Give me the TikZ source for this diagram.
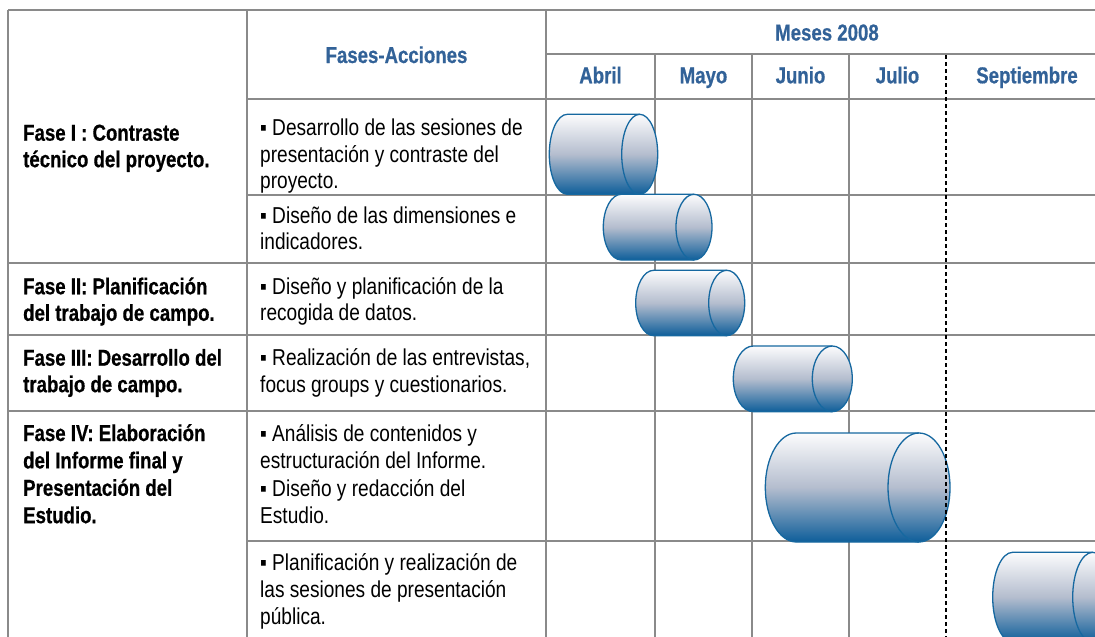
\documentclass[tikz,border=0pt]{standalone}
\usepackage{fontspec}
\setmainfont{Liberation Sans}[FakeStretch=0.83,BoldFeatures={FakeStretch=0.81,FakeBold=0.6}]
\definecolor{gridgray}{RGB}{138,138,138}
\definecolor{headblue}{RGB}{50,98,152}
\definecolor{cyledge}{RGB}{22,104,160}
\definecolor{cyltop}{RGB}{252,252,253}
\definecolor{cylmid}{RGB}{180,189,206}
\definecolor{cylbot}{RGB}{14,94,154}
\newcommand\gantcyl[5]{%
  \pgfmathsetmacro\cxa{#1+#5}%
  \pgfmathsetmacro\cxb{#2-#5}%
  \pgfmathsetmacro\cry{(#4-#3)/2}%
  \shade[top color=cyltop,bottom color=cylbot,middle color=cylmid]
    (\cxa,#3) -- (\cxb,#3) arc[start angle=90,end angle=-90,x radius=#5pt,y radius=\cry pt]
    -- (\cxa,#4) arc[start angle=-90,end angle=-270,x radius=#5pt,y radius=\cry pt] -- cycle;
  \draw[cylline]
    (\cxa,#3) -- (\cxb,#3) arc[start angle=90,end angle=-90,x radius=#5pt,y radius=\cry pt]
    -- (\cxa,#4) arc[start angle=-90,end angle=-270,x radius=#5pt,y radius=\cry pt] -- cycle;
  \draw[cylline] (\cxb,#3) arc[start angle=90,end angle=270,x radius=#5pt,y radius=\cry pt];
}
\tikzset{
  gridline/.style={draw=gridgray,line width=2.2pt},
  dashline/.style={draw=black,line width=2pt,dash pattern=on 4pt off 3pt},
  cylline/.style={draw=cyledge,line width=1.3pt},
  headtext/.style={inner sep=0pt,anchor=base,text=headblue,font=\fontsize{23}{26.5}\selectfont\bfseries},
  fasetext/.style={inner sep=0pt,anchor=base west,align=left,font=\fontsize{23}{#1}\selectfont\bfseries},
  fasetext/.default=26.5,
  acttext/.style={inner sep=0pt,anchor=base west,align=left,font=\fontsize{23}{#1}\selectfont},
  acttext/.default=26.5
}
\begin{document}
\begin{tikzpicture}[x=1pt,y=-1pt]
\useasboundingbox (0,0) rectangle (1095,637);
\clip (0,0) rectangle (1095,637);
% grid
\draw[gridline] (8,10) -- (8,640);
\draw[gridline] (247,10) -- (247,640);
\draw[gridline] (546,10) -- (546,640);
\foreach \xx in {655,752,849} \draw[gridline] (\xx,54) -- (\xx,640);
\draw[gridline] (1108,10) -- (1108,640);
\draw[gridline] (8,10) -- (1110,10);
\draw[gridline] (546,54) -- (1110,54);
\draw[gridline] (247,99) -- (1110,99);
\draw[gridline] (247,195) -- (1110,195);
\draw[gridline] (8,263) -- (1110,263);
\draw[gridline] (8,335) -- (1110,335);
\draw[gridline] (8,411) -- (1110,411);
\draw[gridline] (247,541) -- (1110,541);
% header
\node[headtext] (fa) at (396.5,63) {Fases-Acciones};
\node[headtext] (me) at (827,40.5) {Meses 2008};
\node[headtext] (m1) at (600.5,83.3) {Abril};
\node[headtext] (m2) at (703.5,83.3) {Mayo};
\node[headtext] (m3) at (800.5,83.3) {Junio};
\node[headtext] (m4) at (897.5,83.3) {Julio};
\node[headtext] (m5) at (1027,83.3) {Septiembre};
% phases (anchored at the baseline of the last line)
\node[fasetext] (f1) at (23,167.2) {Fase I : Contraste\\técnico del proyecto.};
\node[fasetext] (f2) at (23,320.8) {Fase II: Planificación\\del trabajo de campo.};
\node[fasetext] (f3) at (23,392.2) {Fase III: Desarrollo del\\trabajo de campo.};
\node[fasetext=27.4] (f4) at (23,523.2) {Fase IV: Elaboración\\del Informe final y\\Presentación del\\Estudio.};
% actions
\node[acttext=26.3] (a1) at (260,188.3) {▪ Desarrollo de las sesiones de\\presentación y contraste del\\proyecto.};
\node[acttext] (a2) at (260,249.5) {▪ Diseño de las dimensiones e\\indicadores.};
\node[acttext] (a3) at (260,320.8) {▪ Diseño y planificación de la\\recogida de datos.};
\node[acttext] (a4) at (260,392.2) {▪ Realización de las entrevistas,\\focus groups y cuestionarios.};
\node[acttext=27.3] (a5) at (260,468.3) {▪ Análisis de contenidos y\\estructuración del Informe.};
\node[acttext=26.6] (a6) at (260,523.3) {▪ Diseño y redacción del\\Estudio.};
\node[acttext=27.15] (a7) at (260,624.3) {▪ Planificación y realización de\\las sesiones de presentación\\pública.};
% bars
\gantcyl{549.3}{657.7}{114.3}{194.3}{18}
\gantcyl{603.3}{712}{194.3}{260}{18}
\gantcyl{635.7}{744.7}{270.3}{335.7}{18}
\gantcyl{733.3}{852.3}{346}{411.7}{20}
\gantcyl{765.3}{950}{433}{542}{31}
\gantcyl{992.7}{1112.7}{552.3}{642}{20}
% dashed month separator
\draw[dashline] (946,55) -- (946,640);
\end{tikzpicture}
\end{document}
